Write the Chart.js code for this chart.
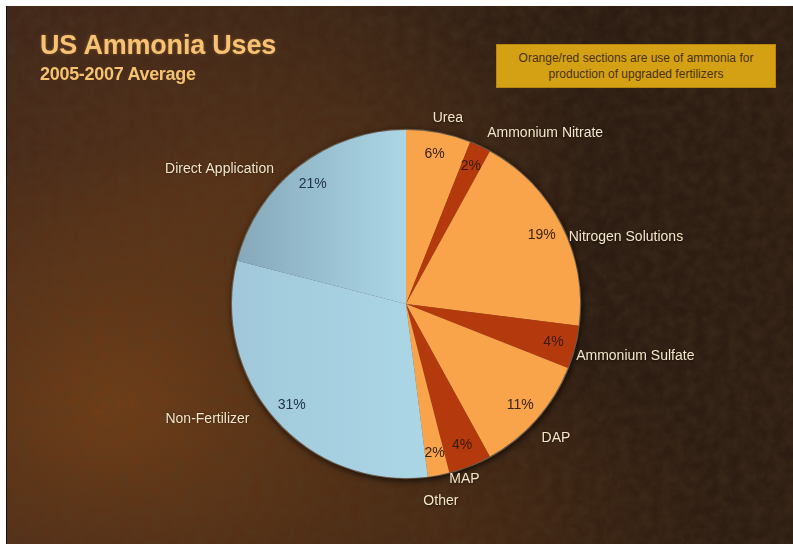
<!DOCTYPE html>
<html>
<head>
<meta charset="utf-8">
<script src="https://cdn.jsdelivr.net/npm/chart.js@4/dist/chart.umd.min.js"></script>
<style>
  html, body { margin: 0; padding: 0; background: #ffffff; }
  #frame {
    position: absolute; left: 6px; top: 6px; width: 787px; height: 538px; overflow: hidden;
    border-left: 1px solid #1a1008;
    background:
      radial-gradient(ellipse 330px 260px at 110px 400px, rgba(122,66,22,0.85), rgba(122,66,22,0) 100%),
      radial-gradient(ellipse 360px 220px at 230px 180px, rgba(96,54,24,0.7), rgba(96,54,24,0) 100%),
      radial-gradient(ellipse 300px 200px at 420px 520px, rgba(90,50,20,0.6), rgba(90,50,20,0) 100%),
      linear-gradient(90deg, #42271a 0%, #3a2416 45%, #2c1c12 75%, #2e1d12 100%);
  }
  #grain {
    position: absolute; left: 0; top: 0; width: 100%; height: 100%; opacity: 0.32;
    background-image: url("data:image/svg+xml;utf8,<svg xmlns='http://www.w3.org/2000/svg' width='300' height='300'><filter id='n'><feTurbulence type='fractalNoise' baseFrequency='0.09' numOctaves='4' seed='4'/><feColorMatrix values='0 0 0 0 0.08  0 0 0 0 0.05  0 0 0 0 0.02  0 0 0 1.6 -0.45'/></filter><rect width='300' height='300' filter='url(%23n)'/></svg>");
  }
  canvas { position: absolute; left: 0; top: 0; }
  .title {
    position: absolute; left: 33px; top: 24px; margin: 0;
    font: bold 27px "Liberation Sans", Arial, sans-serif; color: #f7c274;
    text-shadow: 0 0 3px rgba(255,190,100,0.35);
    letter-spacing: -0.2px;
  }
  .subtitle {
    position: absolute; left: 33px; top: 58px; margin: 0;
    font: bold 18px "Liberation Sans", Arial, sans-serif; color: #f5c272;
    letter-spacing: -0.3px;
  }
  .note {
    position: absolute; left: 489px; top: 38px; width: 280px; height: 44px;
    background: #d4a014; border: 1px solid #b8870f; box-sizing: border-box;
    font: 12px "Liberation Sans", Arial, sans-serif; color: #4a3210;
    text-align: center; line-height: 16px; padding-top: 5px;
  }
</style>
</head>
<body>
<div id="frame">
  <div id="grain"></div>
  <canvas id="pie" width="787" height="538"></canvas>
  <h1 class="title">US Ammonia Uses</h1>
  <h2 class="subtitle">2005-2007 Average</h2>
  <div class="note">Orange/red sections are use of ammonia for<br>production of upgraded fertilizers</div>
</div>
<script>
// Share of US ammonia use by end product, percent
const categories = ['Urea', 'Ammonium Nitrate', 'Nitrogen Solutions', 'Ammonium Sulfate',
                    'DAP', 'MAP', 'Other', 'Non-Fertilizer', 'Direct Application'];
const shares = [6, 2, 19, 4, 11, 4, 2, 31, 21];
const shareLabels = shares.map(v => v + '%');

// Slice styling
const ORANGE = '#f9a34b', RED = '#b43a0d';
const sliceKinds = ['orange', 'red', 'orange', 'red', 'orange', 'red', 'orange', 'blueLight', 'blueShade'];
const percentColors = { orange: '#3a2412', red: '#3a1a0c', blueLight: '#22344c', blueShade: '#22344c' };
// small pixel nudges for the outside category labels
const labelNudge = [[7, 5], [2, -3], [-3, 18], [-10, 6], [-4, 11], [-10, -5], [0, 7], [-17, -8], [-18, 12]];

function sliceFill(ctx) {
  const kind = sliceKinds[ctx.dataIndex];
  if (kind === 'orange') return ORANGE;
  if (kind === 'red') return RED;
  const area = ctx.chart.chartArea;
  if (!area) return '#a8d3e3';
  const g = ctx.chart.ctx.createLinearGradient(area.left, 0, area.right, 0);
  if (kind === 'blueShade') {
    g.addColorStop(0, '#84a7b9');
    g.addColorStop(0.5, '#abd6e6');
    g.addColorStop(1, '#b2dcea');
  } else {
    g.addColorStop(0, '#a0c8da');
    g.addColorStop(0.5, '#aad5e5');
    g.addColorStop(1, '#b3dcea');
  }
  return g;
}

const pieShadow = {
  id: 'pieShadow',
  beforeDatasetsDraw(chart) {
    const arc = chart.getDatasetMeta(0).data[0];
    if (!arc) return;
    const { x, y, outerRadius } = arc.getProps(['x', 'y', 'outerRadius'], true);
    const c = chart.ctx;
    c.save();
    c.shadowColor = 'rgba(0,0,0,0.7)';
    c.shadowBlur = 6;
    c.shadowOffsetX = 1;
    c.shadowOffsetY = 2;
    c.fillStyle = '#6a5a48';
    c.beginPath();
    c.arc(x, y, outerRadius + 1.2, 0, Math.PI * 2);
    c.fill();
    c.restore();
  }
};

const sliceLabels = {
  id: 'sliceLabels',
  afterDatasetsDraw(chart) {
    const c = chart.ctx;
    chart.getDatasetMeta(0).data.forEach((arc, i) => {
      const { x, y, startAngle, endAngle, outerRadius } =
        arc.getProps(['x', 'y', 'startAngle', 'endAngle', 'outerRadius'], true);
      const mid = (startAngle + endAngle) / 2;
      const dx = Math.cos(mid), dy = Math.sin(mid);

      // value inside the slice
      c.save();
      c.font = '14px "Liberation Sans", Arial, sans-serif';
      c.fillStyle = percentColors[sliceKinds[i]];
      c.textAlign = 'center';
      c.textBaseline = 'middle';
      const rp = outerRadius * 0.875;
      c.fillText(shareLabels[i], x + dx * rp, y + dy * rp);
      c.restore();

      // category name outside the pie
      c.save();
      c.font = '14px "Liberation Sans", Arial, sans-serif';
      c.fillStyle = '#f4e6c8';
      c.shadowColor = 'rgba(0,0,0,0.55)';
      c.shadowBlur = 2;
      c.shadowOffsetX = 0.5;
      c.shadowOffsetY = 0.5;
      c.textBaseline = 'middle';
      const rl = outerRadius + 12;
      let lx = x + dx * rl, ly = y + dy * rl;
      if (dx > 0.4) c.textAlign = 'left';
      else if (dx < -0.4) c.textAlign = 'right';
      else { c.textAlign = 'center'; ly += dy * 8; }
      lx += labelNudge[i][0];
      ly += labelNudge[i][1];
      c.fillText(categories[i], lx, ly);
      c.restore();
    });
  }
};

new Chart(document.getElementById('pie'), {
  type: 'pie',
  data: {
    labels: categories,
    datasets: [{
      data: shares,
      backgroundColor: sliceFill,
      borderWidth: 0,
      hoverOffset: 0
    }]
  },
  options: {
    responsive: false,
    animation: false,
    events: [],
    layout: { padding: { left: 225, top: 124, right: 214, bottom: 66 } },
    plugins: { legend: { display: false }, tooltip: { enabled: false }, title: { display: false } }
  },
  plugins: [pieShadow, sliceLabels]
});
</script>
</body>
</html>
